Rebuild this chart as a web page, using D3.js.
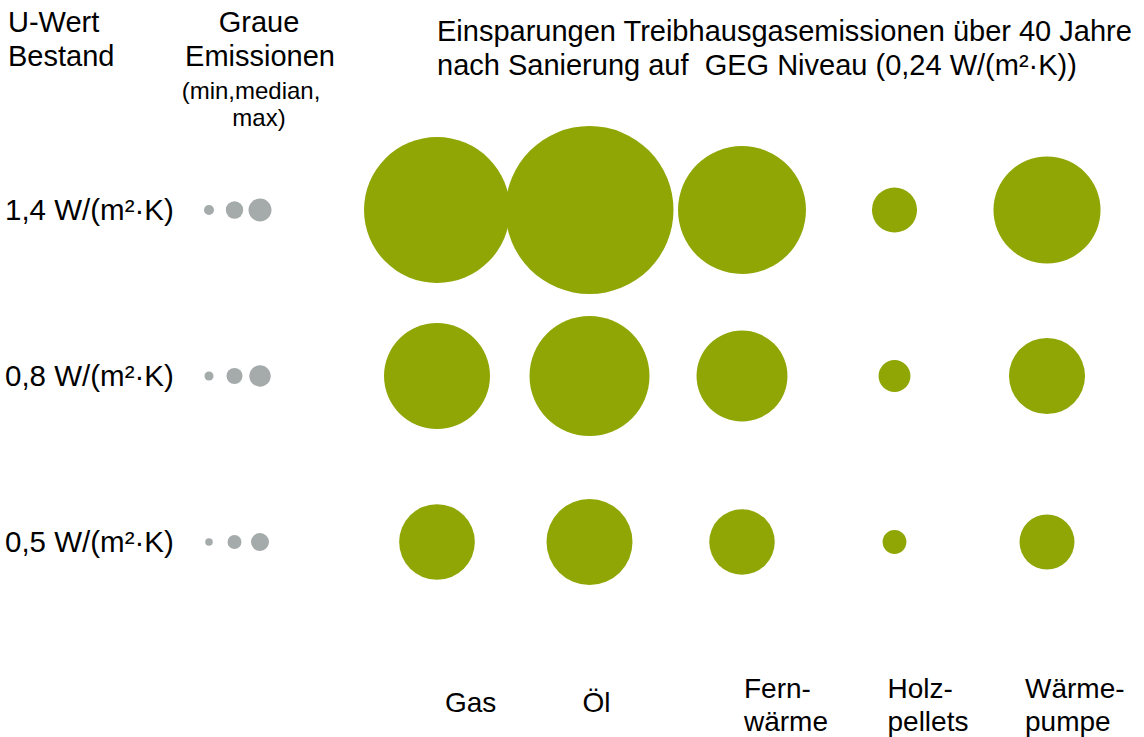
<!DOCTYPE html>
<html>
<head>
<meta charset="utf-8">
<script src="https://cdn.jsdelivr.net/npm/d3@7"></script>
<style>
  body { margin: 0; background: #fff; }
  text { font-family: "Liberation Sans", Arial, sans-serif; fill: #000; white-space: pre; }
</style>
</head>
<body>
<div id="chart"></div>
<script>
// data (savings in relative units, same unit for grey emissions)
var uLabels = ["1,4 W/(m²·K)", "0,8 W/(m²·K)", "0,5 W/(m²·K)"];
var carriers = ["Gas", "Öl", "Fernwärme", "Holzpellets", "Wärmepumpe"];
var carrierLabels = [["Gas"], ["Öl"], ["Fern-", "wärme"], ["Holz-", "pellets"], ["Wärme-", "pumpe"]];
var greyKeys = ["min", "median", "max"];
var savings = [
	[75.5, 100, 58, 7.2, 40.6],
	[39.8, 51, 29.3, 3.6, 20.5],
	[20.3, 26.2, 15.2, 2.0, 10.7]
];
var greyEmissions = [
	[0.35, 1.07, 1.87],
	[0.29, 0.91, 1.62],
	[0.2, 0.69, 1.15]
];

var width = 1144, height = 737;
var green = "#8fa604", grey = "#a4abaa";

var svg = d3.select("#chart").append("svg")
	.attr("width", width)
	.attr("height", height);

var x = d3.scalePoint().domain(carriers).range([437, 1047]);
var y = d3.scalePoint().domain(uLabels).range([210, 542]);
var gx = d3.scalePoint().domain(greyKeys).range([209, 260]);
var r = d3.scaleSqrt().domain([0, 100]).range([0, 84]);

function label(parent, tx, ty, str, size, anchor) {
	return parent.append("text")
		.attr("x", tx)
		.attr("y", ty)
		.attr("text-anchor", anchor || "start")
		.style("font-size", size + "px")
		.text(str);
}

// header texts
label(svg, 8, 32, "U-Wert", 29);
label(svg, 8, 66, "Bestand", 29);
label(svg, 259, 32, "Graue", 29, "middle");
label(svg, 260, 66, "Emissionen", 29, "middle");
label(svg, 251, 99, "(min,median,", 24, "middle");
label(svg, 259, 126, "max)", 24, "middle");
label(svg, 437, 41, "Einsparungen Treibhausgasemissionen über 40 Jahre", 29);
label(svg, 437, 75, "nach Sanierung auf  GEG Niveau (0,24 W/(m²·K))", 29);

// rows
var rows = svg.selectAll(".row")
	.data(uLabels)
	.enter()
	.append("g")
	.attr("class", "row");

rows.each(function(u, i) {
	var g = d3.select(this);
	label(g, 5, y(u) + 10, u, 29.5);

	g.selectAll(".grey")
		.data(greyEmissions[i])
		.enter()
		.append("circle")
		.attr("class", "grey")
		.attr("cx", function(d, j) { return gx(greyKeys[j]); })
		.attr("cy", y(u))
		.attr("r", function(d) { return r(d); })
		.style("fill", grey);

	g.selectAll(".saving")
		.data(savings[i])
		.enter()
		.append("circle")
		.attr("class", "saving")
		.attr("cx", function(d, j) { return x(carriers[j]); })
		.attr("cy", y(u))
		.attr("r", function(d) { return r(d); })
		.style("fill", green);
});

// category labels at the bottom
var labelOffset = [8, -7, 2, -7, -22];
carrierLabels.forEach(function(lines, i) {
	var lx = x(carriers[i]) + labelOffset[i];
	if (lines.length == 1) {
		label(svg, lx, 712, lines[0], 28);
	} else {
		label(svg, lx, 698, lines[0], 28);
		label(svg, lx, 731, lines[1], 28);
	}
});
</script>
</body>
</html>
